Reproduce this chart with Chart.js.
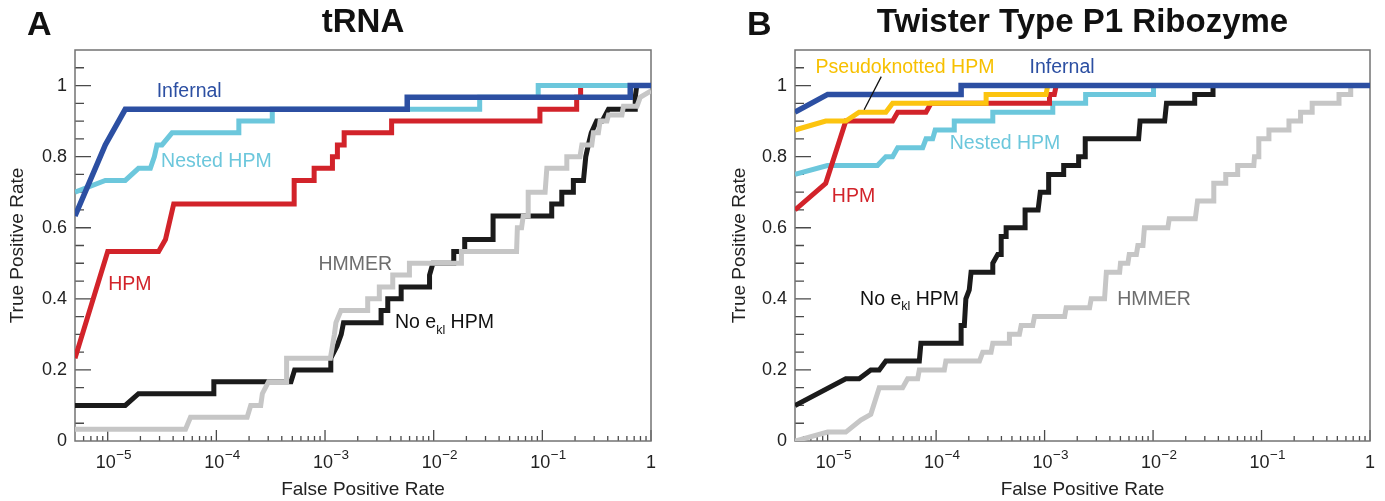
<!DOCTYPE html>
<html><head><meta charset="utf-8">
<script src="https://cdn.jsdelivr.net/npm/chart.js@4.4.1/dist/chart.umd.min.js"></script>
<style>
html,body{margin:0;padding:0;background:#fff;width:1385px;height:501px;overflow:hidden;}
.panel{position:absolute;top:0;height:501px;}
#pa{left:0;width:692px;}
#pb{left:692px;width:693px;}
.letter{position:absolute;font:bold 34px "Liberation Sans",Arial,sans-serif;color:#111;line-height:34px;}
</style></head><body>
<div class="panel" id="pa"><canvas id="ca"></canvas></div>
<div class="panel" id="pb"><canvas id="cb"></canvas></div>
<div class="letter" style="left:27px;top:6px">A</div>
<div class="letter" style="left:747px;top:6px">B</div>
<script>
// ---------- axis ticks ----------
const xMin = 5e-6, xMax = 1;
const xTickValues = [1e-5, 1e-4, 1e-3, 1e-2, 1e-1, 1];
const xTickBase = ['10', '10', '10', '10', '10', '1'];
const xTickExp = ['\u22125', '\u22124', '\u22123', '\u22122', '\u22121', ''];
const yTickValues = [0, 0.2, 0.4, 0.6, 0.8, 1];
const yTickLabels = ['0', '0.2', '0.4', '0.6', '0.8', '1'];

// ---------- Panel A: tRNA ----------
const trnaInfernalFpr = [5e-6, 9.5e-6, 1.45e-5, 5.71e-3, 5.71e-3, 0.644, 0.644, 1];
const trnaInfernalTpr = [0.633, 0.833, 0.933, 0.933, 0.967, 0.967, 1, 1];

const trnaNestedFpr = [5e-6, 9.5e-6, 1.45e-5, 1.92e-5, 2.47e-5, 2.69e-5, 2.84e-5, 3.16e-5, 3.91e-5, 1.61e-4, 1.61e-4, 3.27e-4, 3.27e-4, 0.0265, 0.0265, 0.0916, 0.0916, 1];
const trnaNestedTpr = [0.700, 0.733, 0.733, 0.767, 0.767, 0.800, 0.833, 0.833, 0.867, 0.867, 0.900, 0.900, 0.933, 0.933, 0.967, 0.967, 1, 1];

const trnaHpmFpr = [5e-6, 1e-5, 2.94e-5, 3.4e-5, 4.05e-5, 5.2e-4, 5.2e-4, 7.94e-4, 7.94e-4, 1.17e-3, 1.17e-3, 1.3e-3, 1.3e-3, 1.5e-3, 1.5e-3, 4.1e-3, 4.1e-3, 0.095, 0.095, 0.207, 0.207, 0.225, 0.225];
const trnaHpmTpr = [0.233, 0.533, 0.533, 0.567, 0.667, 0.667, 0.733, 0.733, 0.767, 0.767, 0.800, 0.800, 0.833, 0.833, 0.867, 0.867, 0.900, 0.900, 0.933, 0.933, 0.967, 0.967, 1];

const trnaNoEklFpr = [5e-6, 1.45e-5, 1.92e-5, 9.48e-5, 9.48e-5, 4.86e-4, 5.25e-4, 1.13e-3, 1.13e-3, 1.29e-3, 1.41e-3, 1.48e-3, 3.28e-3, 3.28e-3, 3.78e-3, 3.78e-3, 5.02e-3, 5.02e-3, 9.16e-3, 9.16e-3, 9.84e-3, 0.0153, 0.0153, 0.0193, 0.0193, 0.0352, 0.0352, 0.122, 0.122, 0.151, 0.151, 0.193, 0.193, 0.239, 0.251, 0.265, 0.282, 0.316, 0.355, 0.406, 0.716, 0.716, 0.74];
const trnaNoEklTpr = [0.1, 0.1, 0.133, 0.133, 0.167, 0.167, 0.2, 0.2, 0.233, 0.267, 0.3, 0.333, 0.333, 0.367, 0.367, 0.4, 0.4, 0.433, 0.433, 0.467, 0.5, 0.5, 0.533, 0.533, 0.567, 0.567, 0.633, 0.633, 0.667, 0.667, 0.7, 0.7, 0.733, 0.733, 0.8, 0.833, 0.867, 0.9, 0.9, 0.933, 0.933, 0.967, 1.0];

const trnaHmmerFpr = [5e-6, 5.2e-5, 5.78e-5, 1.92e-4, 2.07e-4, 2.56e-4, 2.65e-4, 3.02e-4, 4.43e-4, 4.43e-4, 1.12e-3, 1.17e-3, 1.22e-3, 1.26e-3, 1.4e-3, 2.47e-3, 2.47e-3, 3.16e-3, 3.16e-3, 4.2e-3, 4.2e-3, 5.98e-3, 5.98e-3, 0.018, 0.018, 0.0579, 0.0589, 0.0644, 0.0667, 0.0741, 0.0741, 0.106, 0.11, 0.168, 0.168, 0.222, 0.231, 0.285, 0.295, 0.328, 0.34, 0.393, 0.406, 0.54, 0.558, 0.743, 0.796, 1];
const trnaHmmerTpr = [0.033, 0.033, 0.067, 0.067, 0.1, 0.1, 0.133, 0.167, 0.167, 0.233, 0.233, 0.267, 0.3, 0.333, 0.367, 0.367, 0.4, 0.4, 0.433, 0.433, 0.467, 0.467, 0.5, 0.5, 0.533, 0.533, 0.6, 0.6, 0.633, 0.633, 0.7, 0.7, 0.767, 0.767, 0.8, 0.8, 0.833, 0.833, 0.867, 0.867, 0.9, 0.9, 0.917, 0.917, 0.942, 0.942, 0.967, 0.985];

// ---------- Panel B: Twister Type P1 Ribozyme ----------
const twInfernalFpr = [5e-6, 1e-5, 1.7e-4, 1.7e-4, 1];
const twInfernalTpr = [0.925, 0.975, 0.975, 1, 1];

const twPseudoFpr = [5e-6, 9.6e-6, 1.47e-5, 1.95e-5, 3.44e-5, 3.97e-5, 2.89e-4, 2.89e-4, 1.03e-3, 1.07e-3];
const twPseudoTpr = [0.875, 0.9, 0.9, 0.925, 0.925, 0.95, 0.95, 0.975, 0.975, 1];

const twHpmFpr = [5e-6, 9.6e-6, 1.47e-5, 3.97e-5, 4.42e-5, 8.07e-5, 8.97e-5, 1.11e-3, 1.11e-3, 1.23e-3, 1.28e-3];
const twHpmTpr = [0.65, 0.725, 0.9, 0.9, 0.925, 0.925, 0.95, 0.95, 0.975, 0.975, 1];

const twNestedFpr = [5e-6, 9.95e-6, 2.88e-5, 3.44e-5, 3.97e-5, 4.42e-5, 7.52e-5, 8.07e-5, 9.29e-5, 9.8e-5, 1.47e-4, 1.47e-4, 3.33e-4, 3.33e-4, 1.19e-3, 1.19e-3, 2.39e-3, 2.39e-3, 0.0101, 0.0101];
const twNestedTpr = [0.75, 0.775, 0.775, 0.8, 0.8, 0.825, 0.825, 0.85, 0.85, 0.875, 0.875, 0.9, 0.9, 0.925, 0.925, 0.95, 0.95, 0.975, 0.975, 1];

const twNoEklFpr = [5e-6, 1.47e-5, 1.95e-5, 2.5e-5, 2.99e-5, 3.44e-5, 7e-5, 7.24e-5, 1.7e-4, 1.7e-4, 1.82e-4, 1.88e-4, 2.02e-4, 2.1e-4, 3.33e-4, 3.33e-4, 3.7e-4, 3.98e-4, 3.98e-4, 4.42e-4, 4.42e-4, 6.61e-4, 6.61e-4, 8.71e-4, 9.12e-4, 1.09e-3, 1.09e-3, 1.5e-3, 1.5e-3, 2.06e-3, 2.06e-3, 2.37e-3, 2.37e-3, 7.36e-3, 7.59e-3, 0.0128, 0.0133, 0.0242, 0.0242, 0.0357, 0.0357];
const twNoEklTpr = [0.1, 0.175, 0.175, 0.2, 0.2, 0.225, 0.225, 0.275, 0.275, 0.325, 0.325, 0.4, 0.425, 0.475, 0.475, 0.5, 0.525, 0.525, 0.575, 0.575, 0.6, 0.6, 0.65, 0.65, 0.7, 0.7, 0.75, 0.75, 0.775, 0.775, 0.8, 0.8, 0.85, 0.85, 0.9, 0.9, 0.95, 0.95, 0.975, 0.975, 1];

const twHmmerFpr = [5e-6, 1e-5, 1.47e-5, 2.02e-5, 2.5e-5, 2.99e-5, 4.91e-5, 5.46e-5, 6.76e-5, 7e-5, 1.19e-4, 1.23e-4, 2.51e-4, 2.69e-4, 3.21e-4, 3.33e-4, 4.74e-4, 4.74e-4, 5.86e-4, 6.08e-4, 7.78e-4, 8.07e-4, 1.53e-3, 1.58e-3, 2.6e-3, 2.69e-3, 3.57e-3, 3.71e-3, 4.92e-3, 5.01e-3, 5.86e-3, 6.03e-3, 7.02e-3, 7.24e-3, 8.07e-3, 8.32e-3, 0.0137, 0.0141, 0.0245, 0.0251, 0.0257, 0.0363, 0.0363, 0.0465, 0.0468, 0.0596, 0.0603, 0.0849, 0.0861, 0.0944, 0.0944, 0.117, 0.117, 0.179, 0.179, 0.229, 0.229, 0.293, 0.293, 0.518, 0.518, 0.664, 0.664];
const twHmmerTpr = [0, 0.025, 0.025, 0.059, 0.075, 0.15, 0.15, 0.175, 0.175, 0.2, 0.2, 0.225, 0.225, 0.25, 0.25, 0.275, 0.275, 0.3, 0.3, 0.325, 0.325, 0.35, 0.35, 0.375, 0.375, 0.4, 0.4, 0.475, 0.475, 0.5, 0.5, 0.525, 0.525, 0.55, 0.55, 0.6, 0.6, 0.625, 0.625, 0.65, 0.675, 0.675, 0.725, 0.725, 0.75, 0.75, 0.775, 0.775, 0.8, 0.8, 0.85, 0.85, 0.875, 0.875, 0.9, 0.9, 0.925, 0.925, 0.95, 0.95, 0.975, 0.975, 1];

// leader line from the "Pseudoknotted HPM" label to its curve
const twLeaderFpr = [3.12e-5, 2.17e-5];
const twLeaderTpr = [1.025, 0.932];

// ---------- styles ----------
const C = {
  blue: '#2c4fa2', cyan: '#6cc7dc', red: '#d2232a', black: '#1b1b1b',
  grey: '#c6c6c6', yellow: '#fcc40f', greyText: '#6e6e6e'
};
const FONT = '"Liberation Sans", Arial, Helvetica, sans-serif';
Chart.defaults.font.family = FONT;

function series(label, fpr, tpr, color, width, order) {
  return {
    label, data: fpr.map((x, i) => ({ x, y: tpr[i] })),
    borderColor: color, backgroundColor: color, borderWidth: width, order,
    pointRadius: 0, fill: false, tension: 0,
    borderJoinStyle: 'miter', borderCapStyle: 'butt'
  };
}

const frameTicks = {
  id: 'frameTicks',
  beforeDatasetsDraw(chart) {
    const { ctx, chartArea: a, scales: { x, y } } = chart;
    ctx.save();
    ctx.strokeStyle = '#4a4a4a'; ctx.lineWidth = 1.3;
    ctx.beginPath();
    for (let e = -6; e <= 0; e++) {
      for (let m = 1; m <= 9; m++) {
        const v = m * Math.pow(10, e);
        if (v <= xMin * 1.0001 || v > xMax * 1.0001) continue;
        const px = x.getPixelForValue(v);
        const len = m === 1 ? 11 : 5;
        ctx.moveTo(px, a.bottom); ctx.lineTo(px, a.bottom - len);
      }
    }
    for (let k = 1; k <= 21; k++) {
      const py = y.getPixelForValue(k * 0.05);
      const len = (k % 4 === 0) ? 16 : 9;
      ctx.moveTo(a.left, py); ctx.lineTo(a.left + len, py);
    }
    ctx.stroke();
    ctx.strokeStyle = '#737373'; ctx.lineWidth = 1.5;
    ctx.strokeRect(a.left, a.top, a.right - a.left, a.bottom - a.top);
    ctx.restore();
  },
  afterDraw(chart) {
    // decade labels with a raised exponent: 10^-5 ... 1
    const { ctx, chartArea: a, scales: { x } } = chart;
    ctx.save();
    ctx.fillStyle = '#222'; ctx.textBaseline = 'alphabetic'; ctx.textAlign = 'left';
    xTickValues.forEach((v, i) => {
      const px = x.getPixelForValue(v);
      ctx.font = '18px ' + FONT;
      const wb = ctx.measureText(xTickBase[i]).width;
      const bx = xTickExp[i] ? px - wb / 2 - 2 : px - wb / 2;
      ctx.fillText(xTickBase[i], bx, a.bottom + 27);
      if (xTickExp[i]) {
        ctx.font = '13.5px ' + FONT;
        ctx.fillText(xTickExp[i], bx + wb + 0.5, a.bottom + 18);
      }
    });
    ctx.restore();
  }
};

const textLabels = {
  id: 'textLabels',
  afterDatasetsDraw(chart, args, opts) {
    const { ctx, scales: { x, y } } = chart;
    ctx.save();
    ctx.textBaseline = 'middle';
    for (const L of opts.items) {
      const px = x.getPixelForValue(L.x), py = y.getPixelForValue(L.y);
      ctx.fillStyle = L.color;
      if (L.parts) {
        let cx = px;
        for (const [t, sub] of L.parts) {
          ctx.font = (sub ? '12.5px ' : '19.5px ') + FONT;
          ctx.textAlign = 'left';
          ctx.fillText(t, cx, py + (sub ? 7.5 : 0));
          cx += ctx.measureText(t).width;
        }
      } else {
        ctx.font = '19.5px ' + FONT;
        ctx.textAlign = 'center';
        ctx.fillText(L.text, px, py);
      }
    }
    ctx.restore();
  }
};

function makeChart(id, title, datasets, labels, cfg) {
  return new Chart(document.getElementById(id), {
    type: 'line',
    data: { datasets },
    options: {
      responsive: true, maintainAspectRatio: false, animation: false,
      layout: { padding: { left: 0, right: cfg.padRight, top: 0, bottom: 0 } },
      plugins: {
        legend: { display: false }, tooltip: { enabled: false },
        title: {
          display: true, text: title, fullSize: false, color: '#111',
          font: { size: 33, weight: 'bold', lineHeight: 1.2 },
          padding: { top: 3, bottom: 7.4 }
        },
        textLabels: { items: labels }
      },
      scales: {
        x: {
          type: 'logarithmic', min: xMin, max: xMax,
          grid: { display: false, drawTicks: false }, border: { display: false },
          ticks: { display: false, autoSkip: false, maxRotation: 0, minRotation: 0 },
          afterBuildTicks: (s) => { s.ticks = xTickValues.map(v => ({ value: v })); },
          afterFit: (s) => { s.height = 60; },
          title: { display: true, text: 'False Positive Rate', color: '#222', font: { size: 19 }, padding: { top: 0, bottom: 0 } }
        },
        y: {
          type: 'linear', min: 0, max: 1.1,
          grid: { display: false, drawTicks: false }, border: { display: false },
          ticks: { padding: 8, color: '#222', font: { size: 18 }, callback: (v, i) => yTickLabels[i] },
          afterBuildTicks: (s) => { s.ticks = yTickValues.map(v => ({ value: v })); },
          afterFit: (s) => { s.width = cfg.yWidth; },
          title: { display: true, text: 'True Positive Rate', color: '#222', font: { size: 19 }, padding: { top: cfg.yTitlePad, bottom: 0 } }
        }
      }
    },
    plugins: [frameTicks, textLabels]
  });
}

makeChart('ca', 'tRNA', [
  series('Infernal', trnaInfernalFpr, trnaInfernalTpr, C.blue, 5.5, 0),
  series('Nested HPM', trnaNestedFpr, trnaNestedTpr, C.cyan, 5, 1),
  series('HPM', trnaHpmFpr, trnaHpmTpr, C.red, 5, 2),
  series('HMMER', trnaHmmerFpr, trnaHmmerTpr, C.grey, 5, 3),
  series('No ekl HPM', trnaNoEklFpr, trnaNoEklTpr, C.black, 5, 4)
], [
  { text: 'Infernal', x: 5.62e-5, y: 0.982, color: C.blue },
  { text: 'Nested HPM', x: 1.0e-4, y: 0.785, color: C.cyan },
  { text: 'HPM', x: 1.6e-5, y: 0.441, color: C.red },
  { text: 'HMMER', x: 1.9e-3, y: 0.496, color: C.greyText },
  { parts: [['No e', 0], ['kl', 1], [' HPM', 0]], x: 4.4e-3, y: 0.332, color: '#111' }
], { padRight: 41, yWidth: 75, yTitlePad: 6.6 });

makeChart('cb', 'Twister Type P1 Ribozyme', [
  series('leader', twLeaderFpr, twLeaderTpr, '#111', 1.3, -1),
  series('Infernal', twInfernalFpr, twInfernalTpr, C.blue, 5.5, 0),
  series('Pseudoknotted HPM', twPseudoFpr, twPseudoTpr, C.yellow, 5, 1),
  series('HPM', twHpmFpr, twHpmTpr, C.red, 5, 2),
  series('Nested HPM', twNestedFpr, twNestedTpr, C.cyan, 5, 3),
  series('HMMER', twHmmerFpr, twHmmerTpr, C.grey, 5, 4),
  series('No ekl HPM', twNoEklFpr, twNoEklTpr, C.black, 5, 5)
], [
  { text: 'Pseudoknotted HPM', x: 5.16e-5, y: 1.051, color: '#f7c000' },
  { text: 'Infernal', x: 1.45e-3, y: 1.051, color: C.blue },
  { text: 'Nested HPM', x: 4.32e-4, y: 0.836, color: C.cyan },
  { text: 'HPM', x: 1.73e-5, y: 0.687, color: C.red },
  { text: 'HMMER', x: 0.0102, y: 0.399, color: C.greyText },
  { parts: [['No e', 0], ['kl', 1], [' HPM', 0]], x: 1.99e-5, y: 0.399, color: '#111' }
], { padRight: 15, yWidth: 103, yTitlePad: 36.6 });
</script>
</body></html>
